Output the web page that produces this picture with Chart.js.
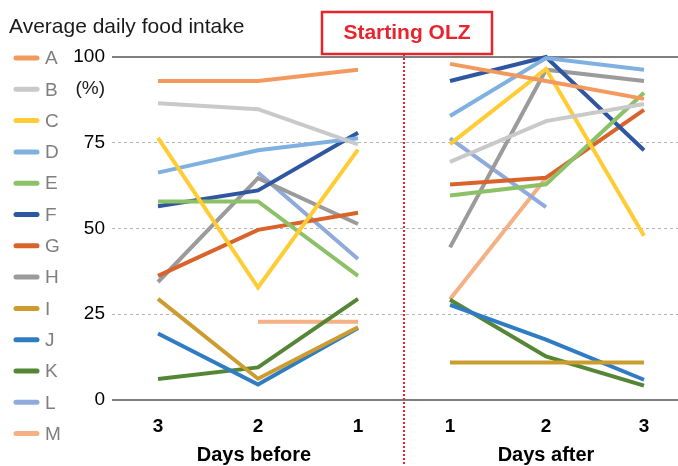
<!DOCTYPE html>
<html>
<head>
<meta charset="utf-8">
<script src="https://cdn.jsdelivr.net/npm/chart.js@4"></script>
<style>
  html, body { margin: 0; padding: 0; background: #fff; }
  #wrap { width: 678px; height: 466px; position: relative; }
</style>
</head>
<body>
<div id="wrap"><canvas id="intake"></canvas></div>
<script>
// x categories (days before / after OLZ start)
const dayLabels = ["3", "2", "1", "1", "2", "3"];
const dayPos = [0, 1, 2, 2.92, 3.88, 4.86];
const yTicks = [0, 25, 50, 75, 100];

const names = ["A", "B", "C", "D", "E", "F", "G", "H", "I", "J", "K", "L", "M"];
const colors = ["#F4995E", "#C9C9C9", "#FFCC33", "#7EB1E1", "#8CC168", "#2F56A1",
  "#D8642C", "#9B9B9B", "#CC9D2E", "#2F7CC4", "#558636", "#8FAADC", "#F5B084"];

// % of average daily food intake: 3,2,1 days before, 1,2,3 days after
const valA = [93, 93, 96.3, 98, 93, 87.8];
const valB = [86.5, 84.8, 74.5, 69.4, 81.3, 86.3];
const valC = [76.4, 32.8, 73, 74.6, 96.5, 47.9];
const valD = [66.3, 72.8, 76.3, 82.8, 99.7, 96.3];
const valE = [57.9, 57.9, 36.2, 59.6, 62.9, 89.6];
const valF = [56.5, 61.1, 77.9, 93, 100, 72.8];
const valG = [36.2, 49.6, 54.6, 62.8, 64.8, 84.6];
const valH = [34.4, 64.7, 51.3, 44.5, 96.3, 93];
const valI = [29.5, 6.2, 21.2, 10.9, 10.9, 10.9];
const valJ = [19.4, 4.5, 21, 27.7, 17.6, 5.9];
const valK = [6.1, 9.5, 29.5, 29.2, 12.7, 4.2];
const valL = [null, 66.3, 41.1, 76.3, 56.2, null];
const valM = [null, 22.8, 22.8, 29.4, 64.7, null];
const values = [valA, valB, valC, valD, valE, valF, valG, valH, valI, valJ, valK, valL, valM];

const FONT = "'Liberation Sans', Arial, sans-serif";

// split each series into a before part and an after part with a gap between
const gapX = (dayPos[2] + dayPos[3]) / 2;
const datasets = names.map((n, i) => {
  const pts = [];
  values[i].forEach((v, j) => {
    if (j === 3) pts.push({ x: gapX, y: null });
    pts.push({ x: dayPos[j], y: v });
  });
  return {
    label: n,
    data: pts,
    borderColor: colors[i],
    backgroundColor: colors[i],
    borderWidth: 4,
    pointRadius: 0,
    tension: 0,
    spanGaps: false,
    clip: false,
  };
});

const decor = {
  id: "decor",
  afterDraw(chart) {
    const ctx = chart.ctx;
    const xs = chart.scales.x;
    ctx.save();

    // title
    ctx.fillStyle = "#1a1a1a";
    ctx.font = "21px " + FONT;
    ctx.textAlign = "left";
    ctx.textBaseline = "alphabetic";
    ctx.fillText("Average daily food intake", 9, 33);

    // unit
    ctx.font = "19px " + FONT;
    ctx.textAlign = "right";
    ctx.textBaseline = "middle";
    ctx.fillText("(%)", 105, 89);

    // legend
    ctx.textAlign = "left";
    chart.data.datasets.forEach((ds, i) => {
      const y = 58 + i * 31.3;
      ctx.strokeStyle = ds.borderColor;
      ctx.lineWidth = 5;
      ctx.lineCap = "round";
      ctx.beginPath();
      ctx.moveTo(16, y);
      ctx.lineTo(37, y);
      ctx.stroke();
      ctx.fillStyle = "#7f7f7f";
      ctx.fillText(ds.label, 45, y + 1);
    });

    // separator
    const sx = xs.getPixelForValue(gapX);
    ctx.strokeStyle = "#E8242C";
    ctx.lineWidth = 2;
    ctx.lineCap = "butt";
    ctx.setLineDash([2, 2]);
    ctx.beginPath();
    ctx.moveTo(sx, 54);
    ctx.lineTo(sx, 466);
    ctx.stroke();
    ctx.setLineDash([]);

    // Starting OLZ box
    ctx.fillStyle = "#fff";
    ctx.fillRect(322, 12, 170, 42);
    ctx.lineWidth = 2.5;
    ctx.strokeRect(322, 12, 170, 42);
    ctx.fillStyle = "#E8242C";
    ctx.font = "bold 21px " + FONT;
    ctx.textAlign = "center";
    ctx.fillText("Starting OLZ", 407, 33);

    // group titles
    ctx.fillStyle = "#000";
    ctx.font = "bold 20px " + FONT;
    ctx.fillText("Days before", xs.getPixelForValue(dayPos[1]) - 4, 455);
    ctx.fillText("Days after", xs.getPixelForValue(dayPos[4]), 455);
    ctx.restore();
  },
};

new Chart(document.getElementById("intake"), {
  type: "line",
  data: { datasets: datasets },
  options: {
    responsive: true,
    maintainAspectRatio: false,
    animation: false,
    layout: { padding: { left: 62, top: 57, right: 0, bottom: 0 } },
    plugins: {
      legend: { display: false },
      tooltip: { enabled: false },
    },
    scales: {
      x: {
        type: "linear",
        min: -0.46,
        max: 5.2,
        afterBuildTicks: (s) => {
          s.ticks = dayPos.map((p) => ({ value: p }));
        },
        afterFit: (s) => {
          s.height = 66;
        },
        ticks: {
          autoSkip: false,
          maxRotation: 0,
          padding: 7,
          color: "#000",
          font: { family: FONT, size: 19, weight: "bold" },
          callback: (v, i) => dayLabels[i],
        },
        grid: { display: false },
        border: { display: false },
      },
      y: {
        min: 0,
        max: 100,
        afterBuildTicks: (s) => {
          s.ticks = yTicks.map((v) => ({ value: v }));
        },
        afterFit: (s) => {
          s.width = 50;
        },
        ticks: {
          padding: 7,
          color: "#000",
          font: { family: FONT, size: 19 },
        },
        grid: {
          drawTicks: false,
          color: (c) => (c.tick && (c.tick.value === 0 || c.tick.value === 100) ? "#7f7f7f" : "#b5b5b5"),
          lineWidth: (c) => (c.tick && (c.tick.value === 0 || c.tick.value === 100) ? 2 : 1),
        },
        border: {
          display: false,
          dash: (c) => (c.tick && (c.tick.value === 0 || c.tick.value === 100) ? [] : [3, 3]),
        },
      },
    },
  },
  plugins: [decor],
});
</script>
</body>
</html>
